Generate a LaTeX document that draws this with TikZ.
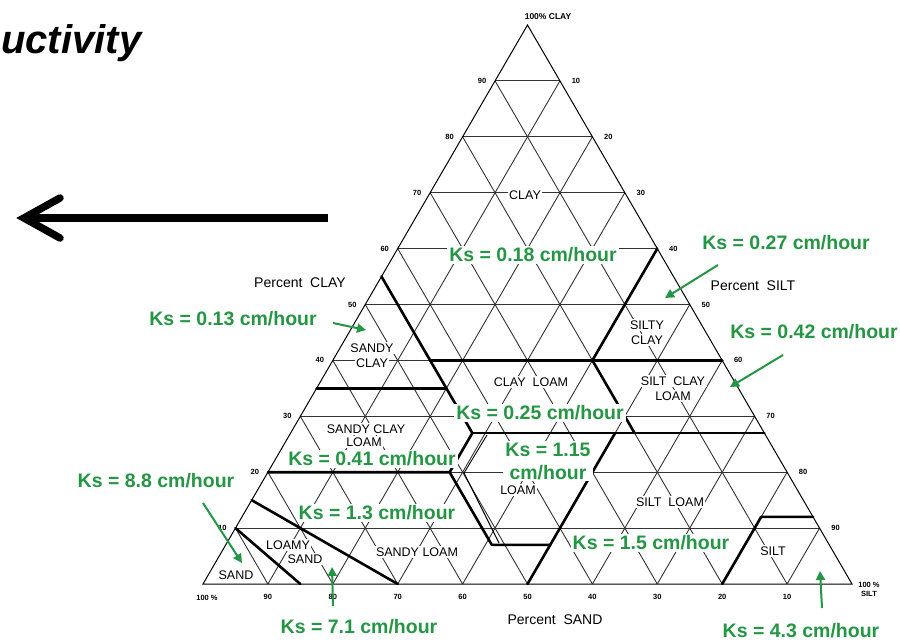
\documentclass[tikz,border=0pt]{standalone}
\usepackage{fontspec}
\setmainfont{Liberation Sans}
\usetikzlibrary{arrows.meta}
\definecolor{ksgreen}{RGB}{36,150,68}
% ternary point: #1 = clay %, #2 = sand %
\newcommand{\tp}[2]{({203+6.49*(100-(#2)-(#1)/2)},{584-5.59*(#1)})}
\begin{document}
\begin{tikzpicture}[x=1pt,y=-1pt,
  gridline/.style={line width=0.9pt,draw=black!80},
  bound/.style={line width=2.6pt,draw=black,line join=round,line cap=round},
  tex/.style={font=\fontsize{12.5}{14}\selectfont,fill=white,inner sep=1.5pt},
  ks/.style={font=\fontsize{19.5}{23}\selectfont\bfseries,text=ksgreen,fill=white,inner sep=2pt,align=center},
  tick/.style={font=\fontsize{7.5}{8}\selectfont\bfseries,inner sep=0.5pt},
  axis/.style={font=\fontsize{14}{16}\selectfont,inner sep=1pt},
  karrow/.style={draw=ksgreen,line width=2pt,-{Triangle[length=9pt,width=9pt]}}]
\useasboundingbox (0,0) rectangle (900,643);
\fill[white] (0,0) rectangle (900,643);

% title fragment
\node[anchor=base west,inner sep=0pt,font=\fontsize{40}{44}\selectfont\bfseries\itshape] (title) at (1,53) {uctivity};

% big arrow
\coordinate (bigS) at (328,218);
\coordinate (bigT) at (24,218);
\draw[line width=7.5pt] (bigS) -- (bigT);
\draw[line width=7.5pt,line cap=round,line join=miter] (60,198) -- (bigT) -- (60,238);

% corners
\coordinate (A) at (203,584);
\coordinate (B) at (852,584);
\coordinate (C) at (527.5,25);

% grid
\foreach \k in {10,20,...,90} {
  \draw[gridline] \tp{\k}{100-\k} -- \tp{\k}{0};
  \draw[gridline] \tp{0}{\k} -- \tp{100-\k}{\k};
  \draw[gridline] \tp{0}{100-\k} -- \tp{100-\k}{0};
}
\draw[line width=1pt] (A) -- (B) -- (C) -- cycle;

% texture class boundaries
\draw[bound] \tp{0}{85} -- \tp{10}{90};
\draw[bound] \tp{0}{70} -- \tp{15}{85};
\draw[bound] \tp{20}{80} -- \tp{20}{52} -- \tp{7}{52} -- \tp{7}{43} -- \tp{0}{50};
\draw[bound] \tp{7}{43} -- \tp{27}{23};
\draw[bound] \tp{20}{52} -- \tp{27}{45} -- \tp{55}{45};
\draw[bound] \tp{27}{45} -- \tp{27}{0};
\draw[bound] \tp{35}{65} -- \tp{35}{45};
\draw[bound] \tp{40}{45} -- \tp{40}{0};
\draw[bound] \tp{40}{20} -- \tp{60}{0};
\draw[bound] \tp{27}{20} -- \tp{40}{20};
\draw[bound] \tp{0}{20} -- \tp{12}{8} -- \tp{12}{0};
% thin inner outline along the loam boundary
\draw[line width=0.9pt] (487,435) -- (464,473) -- (499,543);

% tick labels
\foreach \k [evaluate=\k as \s using int(100-\k)] in {10,20,...,90} {
  \node[tick] at ({203+3.245*\k-13},{584-5.59*\k}) {\k};
  \node[tick] at ({852-3.245*\k+16},{584-5.59*\k}) {\s};
  \node[tick] at ({203+6.49*(100-\k)},597) {\k};
}
\node[tick] (hsand) at (207,598) {100 \%};
\node[tick,align=center,font=\fontsize{7.5}{9}\selectfont\bfseries] (hsilt) at (869,589) {100 \%\\SILT};
\node[tick,font=\fontsize{8.5}{9}\selectfont\bfseries] (hclay) at (548,17) {100\% CLAY};

% axis titles
\node[axis] (pclay) at (300,283) {Percent\ \ CLAY};
\node[axis] (psilt) at (753,286) {Percent\ \ SILT};
\node[axis] (psand) at (555,620) {Percent\ \ SAND};

% texture names
\node[tex] (t1) at (525,195) {CLAY};
\node[tex] (t2) at (372,348) {SANDY};
\node[tex] (t3) at (372,363) {CLAY};
\node[tex] (t4) at (647,325) {SILTY};
\node[tex] (t5) at (647,340) {CLAY};
\node[tex] (t6) at (531,382) {CLAY\ \ LOAM};
\node[tex] (t7) at (673,381) {SILT\ \ CLAY};
\node[tex] (t8) at (673,396) {LOAM};
\node[tex] (t9) at (366,429) {SANDY CLAY};
\node[tex] (t10) at (364,442) {LOAM};
\node[tex] (t11) at (518,490) {LOAM};
\node[tex] (t12) at (670,502) {SILT\ \ LOAM};
\node[tex] (t13) at (773,551) {SILT};
\node[tex] (t14) at (288,545) {LOAMY};
\node[tex] (t15) at (305,559) {SAND};
\node[tex] (t16) at (417,552) {SANDY LOAM};
\node[tex] (t17) at (236,575) {SAND};

% Ks labels
\node[ks] (k018) at (533,255) {Ks = 0.18 cm/hour};
\node[ks] (k027) at (786,243) {Ks = 0.27 cm/hour};
\node[ks] (k042) at (814,332) {Ks = 0.42 cm/hour};
\node[ks] (k013) at (233,319) {Ks = 0.13 cm/hour};
\node[ks] (k025) at (540,413) {Ks = 0.25 cm/hour};
\node[ks] (k115) at (548,461) {Ks = 1.15\\cm/hour};
\node[ks] (k041) at (372,459) {Ks = 0.41 cm/hour};
\node[ks] (k88) at (156,481) {Ks = 8.8 cm/hour};
\node[ks] (k13) at (377,513) {Ks = 1.3 cm/hour};
\node[ks] (k15) at (651,543) {Ks = 1.5 cm/hour};
\node[ks,fill=none] (k71) at (359,627) {Ks = 7.1 cm/hour};
\node[ks,fill=none] (k43) at (801,631) {Ks = 4.3 cm/hour};

% Ks arrows
\coordinate (a27s) at (718,265); \coordinate (a27e) at (665,298);
\coordinate (a42s) at (783,355); \coordinate (a42e) at (730,387);
\coordinate (a13s) at (333,323); \coordinate (a13e) at (366,330);
\coordinate (a88s) at (203,503); \coordinate (a88e) at (242,563);
\coordinate (a71s) at (333,606); \coordinate (a71e) at (332,567);
\coordinate (a43s) at (822,608); \coordinate (a43e) at (820,571);
\draw[karrow] (a27s) -- (a27e);
\draw[karrow] (a42s) -- (a42e);
\draw[karrow] (a13s) -- (a13e);
\draw[karrow] (a88s) -- (a88e);
\draw[karrow] (a71s) -- (a71e);
\draw[karrow] (a43s) -- (a43e);
\end{tikzpicture}
\end{document}
